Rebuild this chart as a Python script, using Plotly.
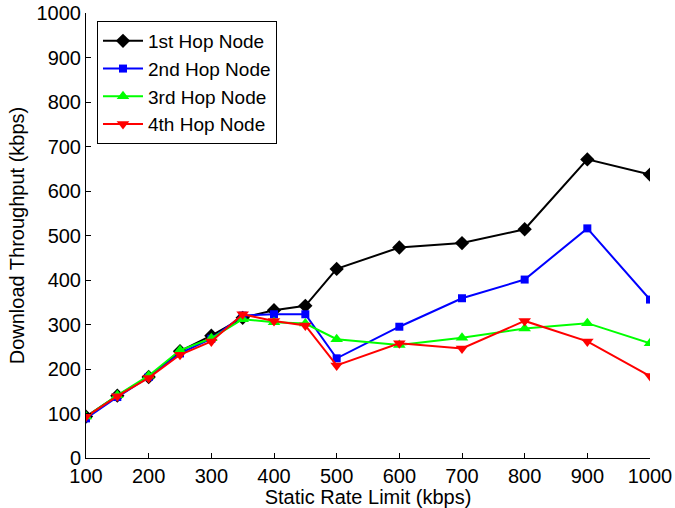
import plotly.graph_objects as go

# Static rate limit settings (kbps)
rate_limit = [100, 150, 200, 250, 300, 350, 400, 450, 500, 600, 700, 800, 900, 1000]

# Measured download throughput (kbps) per hop
hop1 = [93, 140, 182, 240, 275, 315, 332, 342, 425, 473, 483, 514, 671, 637]
hop2 = [89, 137, 182, 235, 268, 320, 323, 323, 224, 295, 359, 401, 516, 356]
hop3 = [93, 141, 185, 242, 269, 312, 305, 302, 267, 254, 270, 291, 303, 258]
hop4 = [93, 139, 180, 232, 262, 323, 308, 298, 208, 258, 246, 308, 262, 184]

series_names = ["1st Hop Node", "2nd Hop Node", "3rd Hop Node", "4th Hop Node"]
x_ticks = [100, 200, 300, 400, 500, 600, 700, 800, 900, 1000]
y_ticks = [0, 100, 200, 300, 400, 500, 600, 700, 800, 900, 1000]

styles = [
    dict(color="#000000", symbol="diamond", size=11),
    dict(color="#0000ff", symbol="square", size=8),
    dict(color="#00ff00", symbol="triangle-up", size=11),
    dict(color="#ff0000", symbol="triangle-down", size=11),
]

FONT = "Liberation Sans, Arial, Helvetica, sans-serif"
FS = 20

fig = go.Figure()
for name, ys, st in zip(series_names, [hop1, hop2, hop3, hop4], styles):
    fig.add_trace(go.Scatter(
        x=rate_limit, y=ys, name=name, mode="lines+markers",
        line=dict(color=st["color"], width=2),
        marker=dict(color=st["color"], symbol=st["symbol"], size=st["size"],
                    line=dict(width=0)),
    ))

axis_common = dict(
    showline=True, linecolor="black", linewidth=1,
    ticks="inside", ticklen=5, tickcolor="black", tickwidth=1,
    showgrid=False, zeroline=False, mirror=False, automargin=False,
    tickfont=dict(family=FONT, size=FS, color="black"),
)

fig.update_layout(
    width=675, height=508,
    margin=dict(l=86, r=25, t=13, b=50, autoexpand=False),
    paper_bgcolor="white", plot_bgcolor="white",
    font=dict(family=FONT, size=FS, color="black"),
    xaxis=dict(range=[100, 1000], tickvals=x_ticks,
               title=dict(text="Static Rate Limit (kbps)",
                          font=dict(family=FONT, size=FS), standoff=0),
               **axis_common),
    yaxis=dict(range=[0, 1000], tickvals=y_ticks,
               title=dict(text="Download Throughput (kbps)",
                          font=dict(family=FONT, size=FS), standoff=6),
               **axis_common),
    legend=dict(x=0.0195, y=0.982, xanchor="left", yanchor="top",
                bgcolor="white", bordercolor="black", borderwidth=1,
                font=dict(family=FONT, size=19, color="black"),
                itemwidth=40, tracegroupgap=0),
    showlegend=True,
)

fig.write_html("out.html")
